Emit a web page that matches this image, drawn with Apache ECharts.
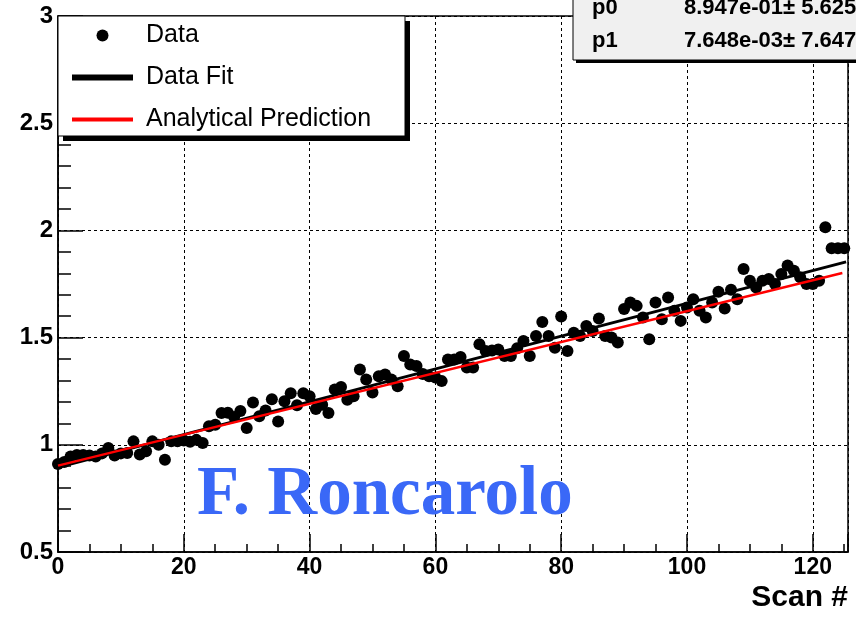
<!DOCTYPE html>
<html>
<head>
<meta charset="utf-8">
<script src="https://cdn.jsdelivr.net/npm/echarts@6/dist/echarts.min.js"></script>
<style>
  html, body { margin: 0; padding: 0; background: #fff; }
  #chart { width: 856px; height: 620px; }
</style>
</head>
<body>
<div id="chart"></div>
<script>
// Measured ratio per scan (scan number = array index)
const scanValues = [
  0.910, 0.920, 0.945, 0.953, 0.953, 0.950, 0.945, 0.960, 0.985, 0.950,
  0.960, 0.962, 1.016, 0.955, 0.970, 1.016, 1.000, 0.930, 1.016, 1.016,
  1.020, 1.014, 1.023, 1.008, 1.086, 1.094, 1.148, 1.150, 1.130, 1.158,
  1.078, 1.197, 1.133, 1.160, 1.212, 1.109, 1.203, 1.240, 1.185, 1.240,
  1.226, 1.167, 1.187, 1.148, 1.258, 1.270, 1.210, 1.226, 1.351, 1.305,
  1.244, 1.320, 1.328, 1.305, 1.273, 1.414, 1.375, 1.367, 1.330, 1.320,
  1.314, 1.297, 1.398, 1.398, 1.410, 1.360, 1.360, 1.469, 1.437, 1.440,
  1.445, 1.414, 1.414, 1.450, 1.484, 1.414, 1.507, 1.573, 1.507, 1.453,
  1.598, 1.437, 1.523, 1.507, 1.554, 1.531, 1.589, 1.507, 1.500, 1.477,
  1.633, 1.664, 1.648, 1.594, 1.492, 1.664, 1.586, 1.687, 1.625, 1.578,
  1.640, 1.679, 1.625, 1.594, 1.664, 1.714, 1.636, 1.723, 1.679, 1.820,
  1.765, 1.734, 1.765, 1.773, 1.750, 1.797, 1.836, 1.812, 1.781, 1.750,
  1.750, 1.765, 2.015, 1.917, 1.917, 1.917
];

// Linear fit pol1: p0 + p1 * x
const fitP0 = 0.8947;
const fitP1 = 0.007648;
const fitRange = [0, 125.3];
const statsLines = [
  ['p0', '8.947e-01\u00b1 5.625e-03'],
  ['p1', '7.648e-03\u00b1 7.647e-05']
];

// Analytical prediction endpoints
const predictionX = [0, 124.7];
const predictionY = [0.903, 1.801];

// Axis settings
const xRange = [0, 125.6];
const xStep = 20;
const yRange = [0.5, 3];
const yStep = 0.5;

const legendNames = ['Data', 'Data Fit', 'Analytical Prediction'];
const xTitle = 'Scan #';
const watermark = 'F. Roncarolo';

const SANS = '"Liberation Sans", Arial, Helvetica, sans-serif';
const SERIF = '"Liberation Serif", "Times New Roman", serif';

const dataPoints = scanValues.map((v, i) => [i, v]);
const fitPoints = fitRange.map(x => [x, fitP0 + fitP1 * x]);
const predictionPoints = predictionX.map((x, i) => [x, predictionY[i]]);

const chart = echarts.init(document.getElementById('chart'), null, { renderer: 'canvas' });

// parameter box in the top right corner
const statsElements = [
  { type: 'rect', shape: { x: 576, y: -100, width: 300, height: 163 }, style: { fill: '#000' }, z: 8 },
  { type: 'rect', shape: { x: 573, y: -100, width: 300, height: 160 }, style: { fill: '#f0f0f0', stroke: '#000', lineWidth: 1 }, z: 9 }
];
statsLines.forEach((row, i) => {
  const cy = 8 + i * 33;
  statsElements.push({
    type: 'text', z: 10,
    style: { text: row[0], x: 592, y: cy, verticalAlign: 'middle', align: 'left',
             font: 'bold 22px ' + SANS, fill: '#000' }
  });
  statsElements.push({
    type: 'text', z: 10,
    style: { text: row[1], x: 684, y: cy, verticalAlign: 'middle', align: 'left',
             font: 'bold 22px ' + SANS, fill: '#000' }
  });
});

const option = {
  animation: false,
  backgroundColor: '#fff',
  grid: {
    left: 58, top: 16, right: 8, bottom: 68,
    show: true, borderColor: '#000', borderWidth: 1.5, backgroundColor: 'transparent'
  },
  xAxis: {
    type: 'value', min: xRange[0], max: xRange[1], interval: xStep,
    axisLine: { show: true, onZero: false, lineStyle: { color: '#000', width: 1.5 } },
    axisTick: { show: true, inside: true, length: 18, lineStyle: { color: '#000', width: 1.5 } },
    minorTick: { show: true, splitNumber: 4, length: 8, lineStyle: { color: '#000', width: 1.5 } },
    axisLabel: { show: true, showMaxLabel: false, margin: 4, color: '#000',
                 fontFamily: SANS, fontWeight: 'bold', fontSize: 23 },
    splitLine: { show: true, lineStyle: { color: '#000', width: 1, type: [3, 3] } }
  },
  yAxis: {
    type: 'value', min: yRange[0], max: yRange[1], interval: yStep,
    axisLine: { show: true, onZero: false, lineStyle: { color: '#000', width: 1.5 } },
    axisTick: { show: true, inside: true, length: 25, lineStyle: { color: '#000', width: 1.5 } },
    minorTick: { show: true, splitNumber: 5, length: 13, lineStyle: { color: '#000', width: 1.5 } },
    axisLabel: { show: true, margin: 5, color: '#000',
                 fontFamily: SANS, fontWeight: 'bold', fontSize: 24 },
    splitLine: { show: true, lineStyle: { color: '#000', width: 1, type: [3, 3] } }
  },
  legend: {
    show: true,
    orient: 'vertical',
    left: 58, top: 16,
    padding: [7, 0, 0, 14],
    itemWidth: 61, itemHeight: 12, itemGap: 17,
    z: 10,
    selectedMode: false,
    textStyle: { fontFamily: SANS, fontSize: 25, color: '#000', lineHeight: 25, padding: [0, 0, 0, 8] },
    data: [
      { name: legendNames[0], icon: 'circle', itemStyle: { color: '#000', opacity: 1 } },
      { name: legendNames[1], icon: 'path://M0,0H61V6H0Z', itemStyle: { color: '#000' } },
      { name: legendNames[2], icon: 'path://M0,0H61V4H0Z', itemStyle: { color: '#ff0000' } }
    ]
  },
  graphic: [
    // legend frame with drop shadow
    { type: 'rect', shape: { x: 63, y: 21, width: 347, height: 120 }, style: { fill: '#000' }, z: 8 },
    { type: 'rect', shape: { x: 58, y: 16, width: 347, height: 120 }, style: { fill: '#fff', stroke: '#000', lineWidth: 1 }, z: 9 },
    ...statsElements,
    {
      type: 'text', z: 6,
      style: { text: watermark, x: 197, y: 531, align: 'left', verticalAlign: 'bottom',
               font: 'bold 69px ' + SERIF, fill: '#3a68f7' }
    },
    {
      type: 'text', z: 6,
      style: { text: xTitle, x: 848, y: 598, align: 'right', verticalAlign: 'middle',
               font: 'bold 30px ' + SANS, fill: '#000' }
    }
  ],
  series: [
    {
      name: legendNames[0], type: 'scatter', data: dataPoints,
      symbol: 'circle', symbolSize: 12,
      itemStyle: { color: '#000', opacity: 1 }, z: 2
    },
    {
      name: legendNames[1], type: 'line', data: fitPoints,
      symbol: 'none', showSymbol: false,
      lineStyle: { color: '#000', width: 3 }, itemStyle: { color: '#000' }, z: 3
    },
    {
      name: legendNames[2], type: 'line', data: predictionPoints,
      symbol: 'none', showSymbol: false,
      lineStyle: { color: '#ff0000', width: 2.5 }, itemStyle: { color: '#ff0000' }, z: 4
    }
  ]
};

chart.setOption(option);
</script>
</body>
</html>
